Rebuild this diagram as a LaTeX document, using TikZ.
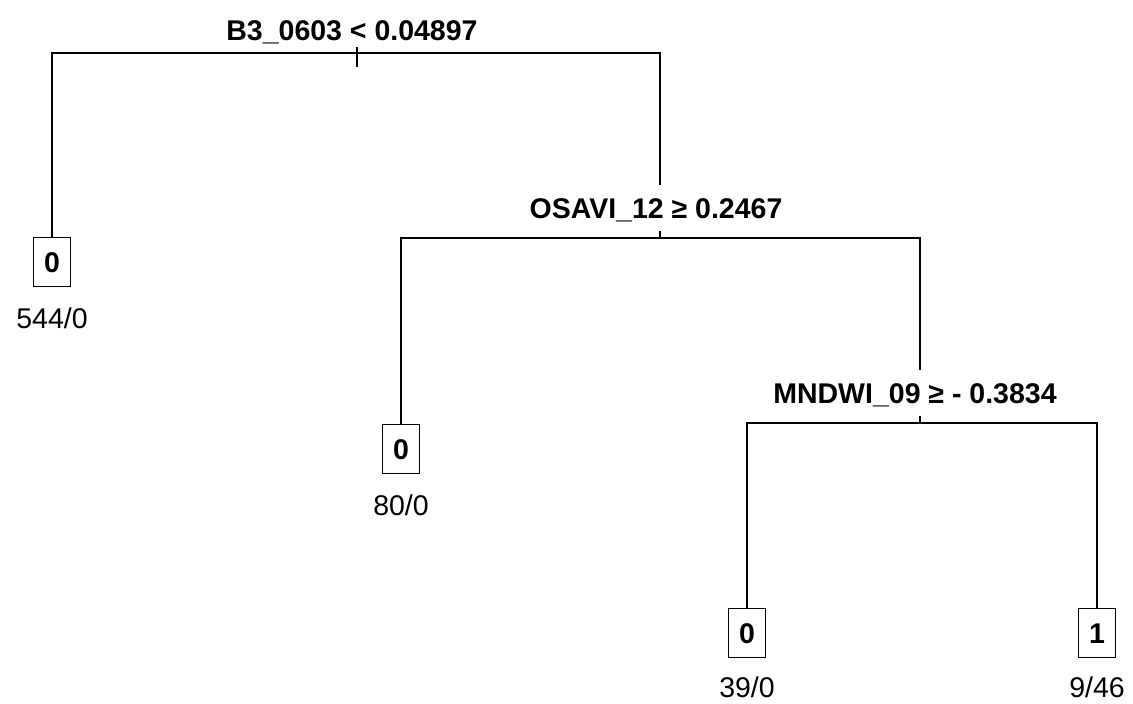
\documentclass[tikz,border=0pt]{standalone}
\usepackage{fontspec}
\setmainfont{Liberation Sans}
\usetikzlibrary{positioning}
\tikzset{
  basic/.style  = {font=\fontsize{28.5}{34}\selectfont, inner sep=0pt, text height=20.5pt, text depth=0pt},
  split/.style  = {basic, font=\fontsize{28.5}{34}\selectfont\bfseries, anchor=base, fill=white, inner xsep=2pt, inner ysep=13pt},
  leaf/.style   = {basic, font=\fontsize{28.5}{34}\selectfont\bfseries, draw, line width=1.1pt, minimum width=37pt, minimum height=49pt},
  count/.style  = {basic}
}
\begin{document}
\begin{tikzpicture}[x=1pt, y=-1pt, line width=1.1pt]
\useasboundingbox (0,0) rectangle (1133,704);

% split points of the tree
\coordinate (s1) at (357,53);
\coordinate (s2) at (660,238);
\coordinate (s3) at (920,423);

% leaves with their class
\node [leaf] (l1) at (52,262)   {0};
\node [leaf] (l2) at (401,449)  {0};
\node [leaf] (l3) at (747,633)  {0};
\node [leaf] (l4) at (1097,633) {1};

% counts below the leaves
\node [count, below=20pt of l1] (c1) {544/0};
\node [count, below=20pt of l2] (c2) {80/0};
\node [count, below=18pt of l3] (c3) {39/0};
\node [count, below=18pt of l4] (c4) {9/46};

% branches
\draw (l1.north) |- (s1) -| (s2);
\draw (l2.north) |- (s2) -| (s3);
\draw (l3.north) |- (s3) -| (l4.north);
\draw (s1) ++(0,-6) -- ++(0,20);

% split rules, drawn over the branches
\node [split, fill=none] (r1) at (352,40)  {B3\_0603 < 0.04897};
\node [split]            (r2) at (656,218) {OSAVI\_12 ≥ 0.2467};
\node [split]            (r3) at (915,403) {MNDWI\_09 ≥ - 0.3834};

\end{tikzpicture}
\end{document}
